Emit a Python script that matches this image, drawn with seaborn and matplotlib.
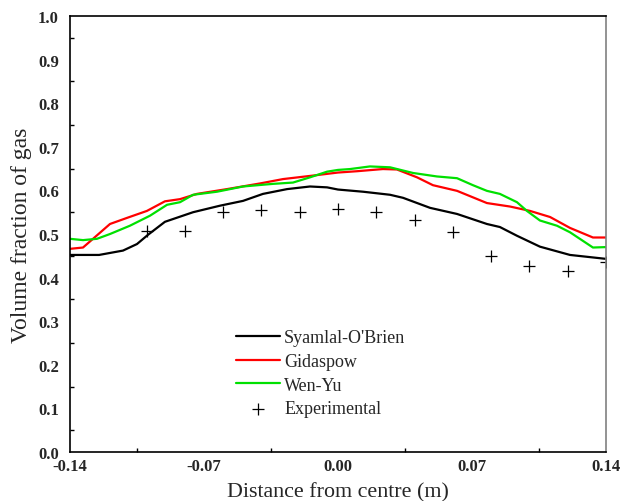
import numpy as np
import pandas as pd
import matplotlib
matplotlib.use("Agg")
import matplotlib.pyplot as plt
import seaborn as sns

# Syamlal-O'Brien
so_x = [-0.14, -0.1248, -0.1123, -0.105, -0.0993, -0.0904, -0.0757, -0.0616, -0.0496, -0.0392,
        -0.0266, -0.0146, -0.0057, 0.0, 0.0131, 0.0272, 0.0340, 0.0481, 0.0622, 0.0778,
        0.0846, 0.0935, 0.1055, 0.1212, 0.14]
so_y = [0.452, 0.452, 0.462, 0.477, 0.498, 0.528, 0.550, 0.565, 0.576, 0.592,
        0.603, 0.609, 0.607, 0.602, 0.597, 0.590, 0.583, 0.560, 0.546, 0.523,
        0.516, 0.496, 0.471, 0.452, 0.443]

# Gidaspow
gi_x = [-0.14, -0.1332, -0.1191, -0.1102, -0.0998, -0.0904, -0.0825, -0.0737, -0.058, -0.0407,
        -0.0287, -0.0131, 0.0, 0.0099, 0.0235, 0.0308, 0.0413, 0.0496, 0.0622, 0.0778,
        0.0899, 0.1003, 0.1108, 0.1212, 0.1332, 0.14]
gi_y = [0.466, 0.469, 0.523, 0.537, 0.553, 0.575, 0.580, 0.592, 0.603, 0.616,
        0.626, 0.634, 0.641, 0.644, 0.649, 0.648, 0.630, 0.612, 0.599, 0.571,
        0.563, 0.553, 0.539, 0.514, 0.492, 0.492]

# Wen-Yu
wy_x = [-0.14, -0.1332, -0.1259, -0.1191, -0.1087, -0.0982, -0.0893, -0.0825, -0.0757, -0.0632,
        -0.0496, -0.0340, -0.0235, -0.0146, -0.0057, 0.0, 0.0063, 0.0167, 0.0272, 0.0392,
        0.0517, 0.0622, 0.0705, 0.0778, 0.0846, 0.0935, 0.0987, 0.1055, 0.1144, 0.1212,
        0.1332, 0.14]
wy_y = [0.489, 0.486, 0.489, 0.500, 0.519, 0.542, 0.567, 0.573, 0.590, 0.597,
        0.609, 0.615, 0.618, 0.630, 0.643, 0.647, 0.649, 0.655, 0.653, 0.640,
        0.632, 0.628, 0.612, 0.599, 0.592, 0.573, 0.553, 0.531, 0.519, 0.504,
        0.469, 0.470]

# Experimental
ex_x = [-0.10, -0.08, -0.06, -0.04, -0.02, 0.00, 0.02, 0.04, 0.06, 0.08, 0.10, 0.12, 0.14]
ex_y = [0.508, 0.508, 0.550, 0.555, 0.550, 0.557, 0.550, 0.532, 0.505, 0.450, 0.426, 0.415, 0.436]

x_ticks = [-0.14, -0.07, 0.00, 0.07, 0.14]
y_ticks = [0.0, 0.1, 0.2, 0.3, 0.4, 0.5, 0.6, 0.7, 0.8, 0.9, 1.0]

sns.set_theme(style="white")
plt.rcParams['font.family'] = ['Liberation Serif', 'DejaVu Serif']

fig = plt.figure(figsize=(6.26, 5.02), dpi=100)
ax = fig.add_axes([0.1118, 0.0976, 0.8562, 0.8685])

df_so = pd.DataFrame({"x": so_x, "y": so_y})
df_gi = pd.DataFrame({"x": gi_x, "y": gi_y})
df_wy = pd.DataFrame({"x": wy_x, "y": wy_y})
df_ex = pd.DataFrame({"x": ex_x, "y": ex_y})

sns.lineplot(data=df_so, x="x", y="y", ax=ax, color="black", lw=1.6, label="Syamlal-O'Brien", sort=False)
sns.lineplot(data=df_gi, x="x", y="y", ax=ax, color="#ff0000", lw=1.6, label="Gidaspow", sort=False)
sns.lineplot(data=df_wy, x="x", y="y", ax=ax, color="#00e000", lw=1.6, label="Wen-Yu", sort=False)
sns.scatterplot(data=df_ex, x="x", y="y", ax=ax, marker="+", color="black", s=70, linewidth=0.9,
                label="Experimental")

ax.set_xlim(-0.14, 0.14)
ax.set_ylim(0.0, 1.0)
ax.set_xticks(x_ticks)
ax.set_xticklabels([f"{v:.2f}" for v in x_ticks], fontweight="bold", fontsize=12)
ax.set_yticks(y_ticks)
ax.set_yticklabels([f"{v:.1f}" for v in y_ticks], fontweight="bold", fontsize=12)
ax.set_xticks([-0.105, -0.035, 0.035, 0.105], minor=True)
ax.set_yticks(np.arange(0.05, 1.0, 0.1), minor=True)
ax.tick_params(which="major", direction="in", length=5, width=1, color="black")
ax.tick_params(axis="y", which="major", pad=8)
ax.tick_params(axis="x", which="major", pad=4)
ax.tick_params(which="minor", direction="in", length=3, width=1, color="black", bottom=True, left=True)
ax.tick_params(top=False, right=False)
for s in ax.spines.values():
    s.set_color("black")
    s.set_linewidth(1.2)
ax.spines["right"].set_color("#808080")

ax.set_xlabel("Distance from centre (m)", fontsize=15.8, labelpad=6)
ax.set_ylabel("Volume fraction of gas", fontsize=17, labelpad=4)

leg = ax.legend(loc="lower left", bbox_to_anchor=(0.28, 0.042), frameon=False, fontsize=13,
                handlelength=2.4, handletextpad=0.25, labelspacing=0.37)

fig.savefig("out.png", dpi=100, facecolor="white")
